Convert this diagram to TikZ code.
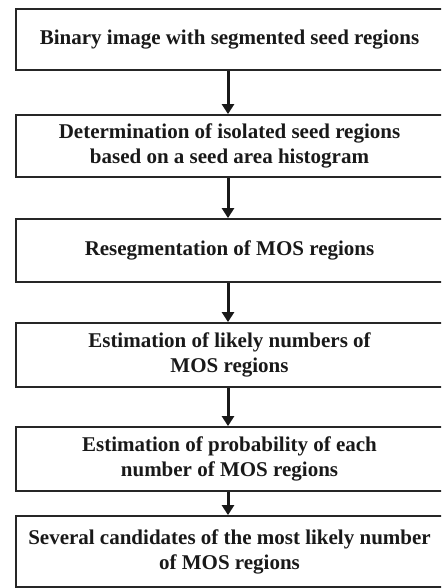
\documentclass[tikz,border=0pt]{standalone}
\usepackage{fontspec}
\setmainfont{Liberation Serif}
\usetikzlibrary{arrows.meta}
\begin{document}
\begin{tikzpicture}[x=1pt,y=-1pt,
  stepbox/.style={draw=black!85,line width=1.8pt,minimum width=427pt,inner sep=0pt,
    align=center,font=\fontsize{21}{25}\selectfont\bfseries,text=black!90},
  flow/.style={line width=3pt,draw=black!90,-{Triangle[width=12pt,length=10pt]},shorten >=0pt}]
\useasboundingbox (0,0) rectangle (441,588);
\clip (0,0) rectangle (441,588);
\node[stepbox,minimum height=61pt] (b1) at (229.5,39.5) {Binary image with segmented seed regions};
\node[stepbox,minimum height=62pt] (b2) at (229.5,146) {Determination of isolated seed regions\\based on a seed area histogram};
\node[stepbox,minimum height=63pt] (b3) at (229.5,250.5) {Resegmentation of MOS regions};
\node[stepbox,minimum height=64pt] (b4) at (229.5,355) {Estimation of likely numbers of\\MOS regions};
\node[stepbox,minimum height=64pt] (b5) at (229.5,459) {Estimation of probability of each\\number of MOS regions};
\node[stepbox,minimum height=71pt] (b6) at (229.5,551.5) {Several candidates of the most likely number\\of MOS regions};
\draw[flow] (b1.south -| 228,0) -- (b2.north -| 228,0);
\draw[flow] (b2.south -| 228,0) -- (b3.north -| 228,0);
\draw[flow] (b3.south -| 228,0) -- (b4.north -| 228,0);
\draw[flow] (b4.south -| 228,0) -- (b5.north -| 228,0);
\draw[flow] (b5.south -| 228,0) -- (b6.north -| 228,0);
\end{tikzpicture}
\end{document}
